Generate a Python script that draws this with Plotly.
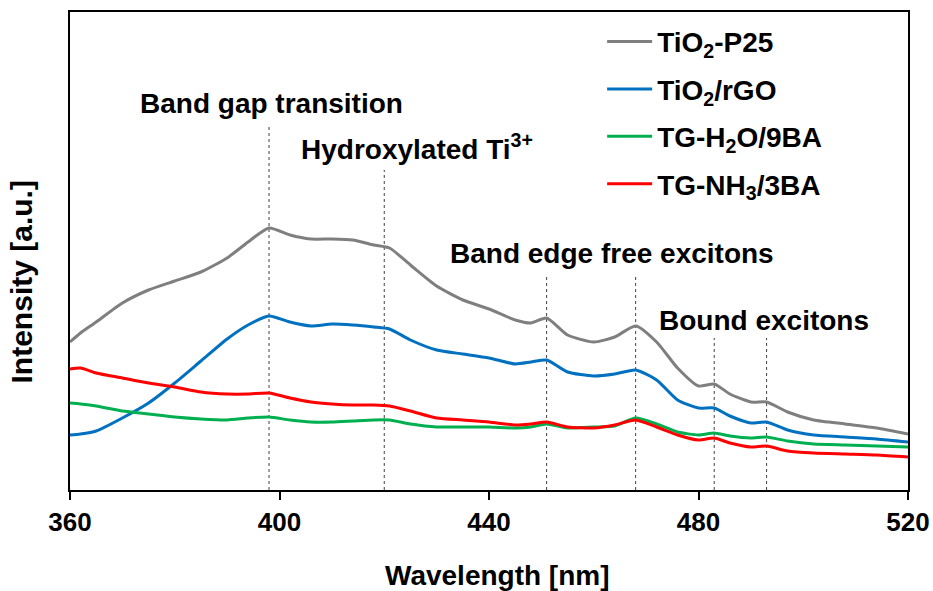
import plotly.graph_objects as go

wavelength = [360, 362, 365, 370, 375, 380, 385, 390, 394, 398, 402, 406, 410, 414, 418, 421,
              425, 430, 435, 440, 445, 448, 451, 455, 460, 464, 468, 472, 476, 480, 483, 486,
              490, 493, 497, 502, 508, 514, 520]

tio2_p25 = [148, 157, 168, 187, 200, 209, 218, 232, 248, 262, 255, 251, 251, 250, 245, 242,
            225, 204, 190, 181, 170, 167, 172, 155, 148, 153, 164, 148, 122, 104, 106, 96,
            88, 88, 78, 70, 66, 62, 56]
tio2_rgo = [55, 56, 59, 72, 87, 107, 129, 151, 165, 174, 168, 164, 166, 165, 163, 161,
            150, 140, 136, 132, 126, 128, 130, 118, 114, 116, 120, 110, 90, 82, 82, 74,
            67, 68, 60, 55, 53, 51, 48]
tg_h2o = [87, 86, 84, 79, 76, 73, 71, 70, 72, 73, 70, 68, 68, 69, 70, 70,
          66, 63, 63, 63, 62, 63, 66, 62, 63, 64, 72, 66, 58, 55, 57, 54,
          52, 53, 49, 46, 45, 44, 43]
tg_nh3 = [121, 122, 117, 112, 107, 103, 98, 96, 96, 97, 92, 88, 86, 85, 85, 84,
          79, 72, 70, 68, 65, 66, 68, 63, 62, 65, 70, 63, 55, 50, 52, 47,
          43, 44, 39, 37, 36, 35, 33]

series_names = ["TiO<sub>2</sub>-P25", "TiO<sub>2</sub>/rGO", "TG-H<sub>2</sub>O/9BA", "TG-NH<sub>3</sub>/3BA"]
series_values = [tio2_p25, tio2_rgo, tg_h2o, tg_nh3]
series_colors = ["#7f7f7f", "#0070C0", "#00B050", "#FF0000"]

marker_wavelengths = [398, 420, 451, 468, 483, 493]
marker_tops = [365, 320, 215, 215, 152, 152]

label_texts = ["Band gap transition", "Hydroxylated Ti<sup>3+</sup>", "Band edge free excitons", "Bound excitons"]
label_x = [398.4, 426.3, 463.4, 492.5]
label_y = [387, 343, 237, 170]

x_ticks = [360, 400, 440, 480, 520]

FONT = "Liberation Sans, Arial, sans-serif"

fig = go.Figure()
for i, (name, vals, col) in enumerate(zip(series_names, series_values, series_colors)):
    fig.add_trace(go.Scatter(
        x=wavelength, y=vals, name=name, mode="lines",
        line=dict(color=col, width=3, shape="spline", smoothing=0.6),
        legendgroup=f"g{i}",
    ))

for wl, top in zip(marker_wavelengths, marker_tops):
    fig.add_shape(type="line", x0=wl, x1=wl, y0=0, y1=top, xref="x", yref="y",
                  line=dict(color="#404040", width=1, dash="dot"), layer="below")

for t, lx, ly in zip(label_texts, label_x, label_y):
    fig.add_annotation(x=lx, y=ly, text=t, showarrow=False, xref="x", yref="y",
                       xanchor="center", yanchor="middle",
                       font=dict(family=FONT, size=28, color="black", weight="bold"))

fig.add_annotation(text="Intensity [a.u.]", xref="paper", yref="paper", x=-0.058, y=0.435,
                   textangle=-90, showarrow=False, xanchor="center", yanchor="middle",
                   font=dict(family=FONT, size=30, color="black", weight="bold"))
fig.add_annotation(text="Wavelength [nm]", xref="paper", yref="paper", x=0.51, y=-0.178,
                   showarrow=False, xanchor="center", yanchor="middle",
                   font=dict(family=FONT, size=28, color="black", weight="bold"))

fig.update_layout(
    width=933, height=591,
    margin=dict(l=70, r=25, t=12, b=101),
    paper_bgcolor="white", plot_bgcolor="white",
    showlegend=True,
    legend=dict(x=0.635, y=0.99, xanchor="left", yanchor="top",
                font=dict(family=FONT, size=28, color="black", weight="bold"),
                bgcolor="rgba(0,0,0,0)", tracegroupgap=8, itemwidth=45),
    xaxis=dict(range=[360, 520], tickvals=x_ticks, ticks="outside", ticklen=8, tickwidth=2,
               tickcolor="black", showline=True, linecolor="black", linewidth=2, mirror=True,
               showgrid=False, zeroline=False, automargin=False, ticklabeloverflow="allow",
               tickfont=dict(family=FONT, size=26, color="black", weight="bold")),
    yaxis=dict(range=[0, 478], showticklabels=False, ticks="", showline=True,
               linecolor="black", linewidth=2, mirror=True, showgrid=False, zeroline=False),
)

fig.write_html("out.html")
